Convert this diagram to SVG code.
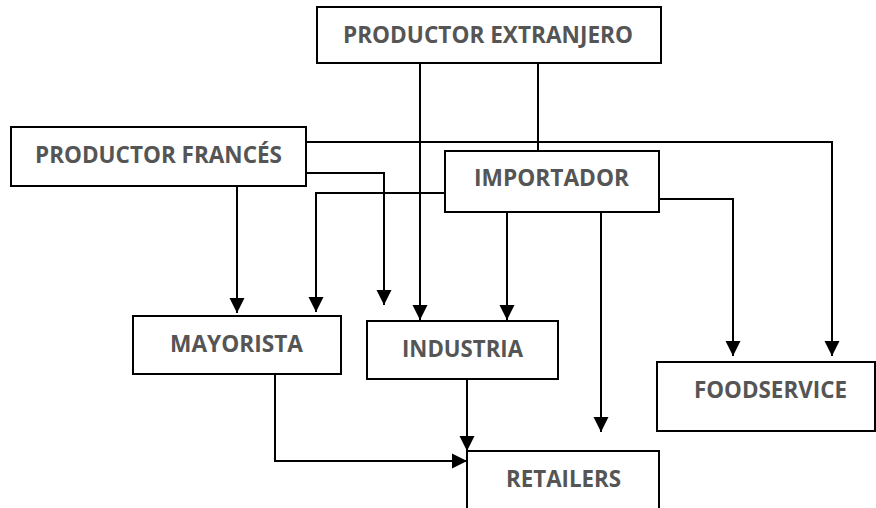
<svg xmlns="http://www.w3.org/2000/svg" width="876" height="508" viewBox="0 0 876 508">
<defs>
<marker id="arr" markerUnits="userSpaceOnUse" markerWidth="18" markerHeight="18" viewBox="0 0 18 18" refX="16" refY="9" orient="auto">
<path d="M1,1.5 L16,9 L1,16.5 Z" fill="#000"/>
</marker>
</defs>
<style>
.box{fill:#fff;stroke:#000;stroke-width:2}
.lbl{font-family:"Open Sans","Liberation Sans",sans-serif;font-weight:bold;font-size:23.5px;fill:#555}
.con{fill:none;stroke:#000;stroke-width:2}
.arw{marker-end:url(#arr)}
</style>
<rect width="876" height="508" fill="#fff"/>
<g id="connectors">
<path class="con arw" d="M420,63 V320"/>
<path class="con" d="M538,63 V151"/>
<path class="con arw" d="M306,142 H832 V356"/>
<path class="con arw" d="M638,199 H733 V356"/>
<path class="con arw" d="M306,173 H384 V305"/>
<path class="con arw" d="M237,175 V313"/>
<path class="con arw" d="M445,193 H316 V312"/>
<path class="con arw" d="M507,212 V320"/>
<path class="con arw" d="M601,212 V432"/>
<path class="con arw" d="M467,379 V451"/>
<path class="con arw" d="M275,372 V461 H467"/>
</g>
<g id="extranjero">
<rect class="box" x="317" y="7" width="344" height="56"/>
<text class="lbl" x="343" y="43" textLength="290" lengthAdjust="spacingAndGlyphs">PRODUCTOR EXTRANJERO</text>
</g>
<g id="frances">
<rect class="box" x="11" y="127" width="295" height="59"/>
<text class="lbl" x="35" y="163" textLength="247" lengthAdjust="spacingAndGlyphs">PRODUCTOR FRANCÉS</text>
</g>
<g id="importador">
<rect class="box" x="445" y="151" width="214" height="61"/>
<text class="lbl" x="474" y="186" textLength="155" lengthAdjust="spacingAndGlyphs">IMPORTADOR</text>
</g>
<g id="mayorista">
<rect class="box" x="133" y="316" width="208" height="58"/>
<text class="lbl" x="170" y="352" textLength="133" lengthAdjust="spacingAndGlyphs">MAYORISTA</text>
</g>
<g id="industria">
<rect class="box" x="367" y="321" width="191" height="58"/>
<text class="lbl" x="402" y="357" textLength="121" lengthAdjust="spacingAndGlyphs">INDUSTRIA</text>
</g>
<g id="foodservice">
<rect class="box" x="657" y="362" width="218" height="69"/>
<text class="lbl" x="694" y="398" textLength="153" lengthAdjust="spacingAndGlyphs">FOODSERVICE</text>
</g>
<g id="retailers">
<rect class="box" x="467" y="451" width="192" height="70"/>
<text class="lbl" x="506" y="487" textLength="115" lengthAdjust="spacingAndGlyphs">RETAILERS</text>
</g>
</svg>
